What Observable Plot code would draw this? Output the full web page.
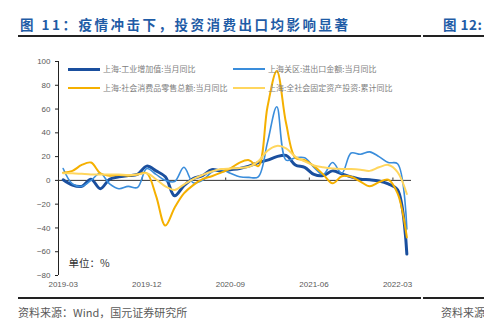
<!DOCTYPE html>
<html><head><meta charset="utf-8">
<script src="https://cdn.jsdelivr.net/npm/d3@7"></script>
<script src="https://cdn.jsdelivr.net/npm/@observablehq/plot@0.6"></script>
<style>
body{margin:0;background:#fff;}
#wrap{position:relative;width:484px;height:327px;overflow:hidden;font-family:"Noto Sans CJK SC","Liberation Sans",sans-serif;}
.abs{position:absolute;white-space:nowrap;}
.sw{position:absolute;}
.lg{position:absolute;font-size:8px;color:#808080;line-height:10px;}
#chart{position:absolute;left:0;top:0;z-index:0;}
.top{z-index:2;}
</style></head><body>
<div id="wrap">
  <div id="chart"></div>
  <div class="abs top" style="left:20px;top:14px;font-size:13.5px;font-weight:700;color:#1f5ca6;letter-spacing:2.5px;line-height:20px;">图 11：疫情冲击下，投资消费出口均影响显著</div>
  <div class="abs top" style="left:443px;top:14px;font-size:13.5px;font-weight:700;color:#1f5ca6;letter-spacing:0.5px;line-height:20px;">图 12:</div>
  <div class="abs top" style="left:18px;top:35px;width:403px;height:2px;background:#222;"></div>
  <div class="abs top" style="left:423px;top:35px;width:61px;height:2px;background:#222;"></div>
  <div id="legend" class="top"></div>
  <div class="abs top" style="left:18px;top:297px;width:403px;height:2px;background:#222;"></div>
  <div class="abs top" style="left:423px;top:297px;width:61px;height:2px;background:#222;"></div>
  <div class="abs top" style="left:18px;top:304px;font-size:11px;color:#595959;line-height:16px;">资料来源：Wind，国元证券研究所</div>
  <div class="abs top" style="left:441px;top:304px;font-size:11px;color:#595959;line-height:16px;">资料来源</div>
</div>
<script>
const months = ["2019-03","2019-04","2019-05","2019-06","2019-07","2019-08","2019-09","2019-10","2019-11","2019-12",
"2020-01","2020-02","2020-03","2020-04","2020-05","2020-06","2020-07","2020-08","2020-09","2020-10","2020-11","2020-12",
"2021-01","2021-02","2021-03","2021-04","2021-05","2021-06","2021-07","2021-08","2021-09","2021-10","2021-11","2021-12",
"2022-01","2022-02","2022-03","2022-04"];
const industrial = [0.5,-4,-5,1,-7,1,3,4,5,12,8,3,-13,-4.5,1.5,4,9,8,9,10,12,15,17,20,21,13,11,5,4,8,5.5,3,1,0.5,-0.5,-3,-8,-62];
const exportsImports = [10,-3,-5,0,6,-3,-7,-5,-6,10,5,0,-1,11,-2,0,7,9,6,3,2.5,3,32,62,17,19,19,11,5,15,6,23,22,24,20,15,14,-41];
const retail = [6.5,8,13,15,6,4,4.5,4,5,6,-13,-38,-23,-11,-4,1,3.5,6.5,10,15,17,12,62,92,48,19,17,12,5,-2.5,3.5,3,-1,-5,-1.5,0.5,-11,-48];
const investment = [6,6,5.5,5,5,5,5,4.5,5,6,1,-5,-8,-3.5,1,4.5,7.5,9.5,10,10.5,11.5,16,25,29,27,20,16,12.5,11,10,9.5,9.5,9,8,11,13,7,-11.5];
const seriesNames = ["上海:工业增加值:当月同比","上海关区:进出口金额:当月同比","上海:社会消费品零售总额:当月同比","上海:全社会固定资产投资:累计同比"];
const seriesColors = ["#1a4f9e","#3a8ddb","#f5b000","#ffd65e"];
const seriesWidths = [3,1.6,2,2];
const yTicks = [-80,-60,-40,-20,0,20,40,60,80,100];
const xTickLabels = ["2019-03","2019-12","2020-09","2021-06","2022-03"];
const unitLabel = "单位：%";

const allSeries = [industrial, exportsImports, retail, investment];
const rows = [];
allSeries.forEach((arr, s) => arr.forEach((v, i) => rows.push({s, i, v})));
const xTickIdx = xTickLabels.map(l => months.indexOf(l));
const boundaries = xTickIdx.map(i => i - 0.5);

const lineMarks = allSeries.map((arr, s) =>
  Plot.line(rows.filter(r => r.s === s), {x: "i", y: "v", stroke: seriesColors[s], strokeWidth: seriesWidths[s], curve: "catmull-rom"})
);

const chart = Plot.plot({
  width: 484, height: 300,
  marginTop: 61, marginBottom: 25, marginLeft: 58, marginRight: 73,
  style: {fontFamily: "'Liberation Sans', 'Noto Sans CJK SC', sans-serif", background: "transparent"},
  x: {domain: [-0.5, months.length - 0.5], axis: null},
  y: {domain: [-80, 100], axis: null},
  marks: [
    Plot.axisY({ticks: yTicks, label: null, tickSize: 3, tickPadding: 5, fontSize: 8, fill: "#595959", stroke: "#222"}),
    Plot.axisX({ticks: xTickIdx, label: null, tickFormat: i => months[i], tickSize: 0, tickPadding: 6, fontSize: 8, fill: "#595959"}),
    Plot.ruleX([-0.5], {stroke: "#222", strokeWidth: 1}),
    Plot.ruleY([0], {stroke: "#333", strokeWidth: 1}),
    Plot.ruleX(boundaries, {y1: 0, y2: 2, stroke: "#333"}),
    ...lineMarks,
    Plot.text([unitLabel], {frameAnchor: "bottom-left", dx: 10, dy: -9, fontSize: 10.5, fill: "#333", textAnchor: "start", fontFamily: "Noto Sans CJK SC"})
  ]
});
document.getElementById("chart").appendChild(chart);

// legend (HTML)
const legendPos = [[68,103,69],[233,268,69],[68,103,88],[233,268,88]];
const lg = document.getElementById("legend");
seriesNames.forEach((name, s) => {
  const [sx, tx, cy] = legendPos[s];
  const sw = document.createElement("div");
  sw.className = "sw";
  const h = seriesWidths[s] < 2 ? 2 : seriesWidths[s];
  sw.style.cssText = `left:${sx}px;top:${cy - h/2}px;width:32px;height:${h}px;background:${seriesColors[s]};`;
  lg.appendChild(sw);
  const t = document.createElement("div");
  t.className = "lg";
  t.style.cssText += `left:${tx}px;top:${cy - 5}px;`;
  t.textContent = name;
  lg.appendChild(t);
});
</script>
</body></html>
